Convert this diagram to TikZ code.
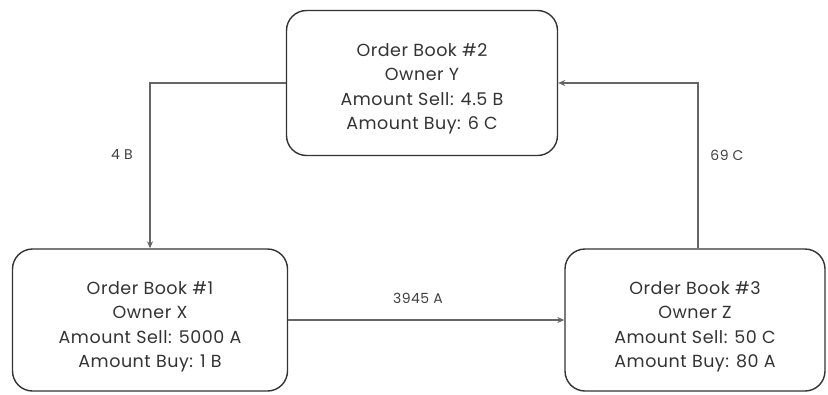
\documentclass[tikz,border=0pt]{standalone}
\usepackage{fontspec}
\setmainfont{Poppins}[LetterSpace=3]
\usetikzlibrary{arrows.meta}
\begin{document}
\begin{tikzpicture}[x=1pt,y=-1pt,
  book/.style={draw=black!80, line width=1.4pt, rounded corners=20pt},
  txt/.style={align=center, font=\fontsize{17.5}{24.5}\selectfont, text=black!80},
  conn/.style={draw=black!60, line width=1.1pt, -{Stealth[length=7pt,width=6pt]}},
  lbl/.style={font=\fontsize{14}{16}\selectfont, text=black!75}]
\useasboundingbox (0,0) rectangle (828,394);
\node[book, minimum width=271pt, minimum height=145pt] (b2) at (422,83) {};
\node[book, minimum width=275pt, minimum height=142pt] (b1) at (150,320) {};
\node[book, minimum width=260pt, minimum height=142pt] (b3) at (695,320) {};
\node[txt] (t2) at ([yshift=-6pt]b2.center)
  {Order Book \#2\\Owner Y\\Amount Sell: 4.5 B\\Amount Buy: 6 C};
\node[txt] (t1) at ([yshift=-7pt]b1.center)
  {Order Book \#1\\Owner X\\Amount Sell: 5000 A\\Amount Buy: 1 B};
\node[txt] (t3) at ([yshift=-7pt]b3.center)
  {Order Book \#3\\Owner Z\\Amount Sell: 50 C\\Amount Buy: 80 A};
\coordinate (c1) at (150,83);
\coordinate (c2) at (698,83);
\draw[conn] (b2.west) -- (c1) -- (b1.north);
\draw[conn] (b3.north -| c2) -- (c2) -- (b2.east);
\draw[conn] (b1.east) -- (b3.west);
\node[lbl] (l1) at (122,154) {4 B};
\node[lbl] (l2) at (727,155) {69 C};
\node[lbl] (l3) at (418,298) {3945 A};
\end{tikzpicture}
\end{document}
